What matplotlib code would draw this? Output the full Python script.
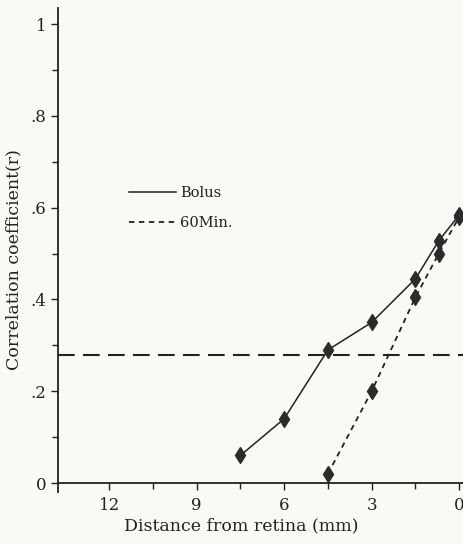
import matplotlib
matplotlib.use('Agg')
import matplotlib.pyplot as plt

plt.rcParams['font.family'] = ['DejaVu Serif']

# distance from retina (mm) and correlation coefficient
bolus_x = [7.5, 6.0, 4.5, 3.0, 1.5, 0.7, 0.0]
bolus_y = [0.06, 0.14, 0.29, 0.35, 0.445, 0.528, 0.584]
min60_x = [4.5, 3.0, 1.5, 0.7, 0.0]
min60_y = [0.02, 0.20, 0.405, 0.50, 0.58]
threshold = 0.28

x_ticks = [12, 9, 6, 3, 0]
x_minor = [10.5, 7.5, 4.5, 1.5]
y_ticks = [0, 0.2, 0.4, 0.6, 0.8, 1.0]
y_ticklabels = ['0', '.2', '.4', '.6', '.8', '1']
y_minor = [0.1, 0.3, 0.5, 0.7, 0.9]

ink = '#222222'
bg = '#faf9f5'

fig = plt.figure(figsize=(4.63, 5.44), dpi=100, facecolor=bg)
ax = fig.add_axes([0.1253, 0.0952, 0.898, 0.890])
ax.set_facecolor(bg)

ax.plot(bolus_x, bolus_y, color=ink, linewidth=1.1, label='Bolus')
ax.plot(min60_x, min60_y, color=ink, linewidth=1.3, linestyle=(0, (3, 2.5)), label='60Min.')
ax.plot(bolus_x, bolus_y, linestyle='none', marker='d', markersize=8,
        color='#2b2b2b')
ax.plot(min60_x, min60_y, linestyle='none', marker='d', markersize=8,
        color='#2b2b2b')
ax.axhline(threshold, color=ink, linewidth=1.5, linestyle=(0, (8, 4)))

ax.set_xlim(13.75, -0.5)
ax.set_ylim(-0.02, 1.035)

ax.spines['top'].set_visible(False)
ax.spines['right'].set_visible(False)
ax.spines['bottom'].set_position(('data', 0))
for s in ['left', 'bottom']:
    ax.spines[s].set_color(ink)
    ax.spines[s].set_linewidth(1.3)

ax.set_xticks(x_ticks)
ax.set_xticks(x_minor, minor=True)
ax.set_yticks(y_ticks)
ax.set_yticklabels(y_ticklabels)
ax.set_yticks(y_minor, minor=True)
ax.tick_params(axis='both', which='major', length=5, width=1, color=ink,
               labelsize=12, labelcolor=ink, direction='out')
ax.tick_params(axis='both', which='minor', length=4, width=1, color=ink,
               direction='out')
ax.tick_params(axis='x', pad=5)

ax.set_xlabel('Distance from retina (mm)', fontsize=12.5, color=ink)
ax.xaxis.set_label_coords(0.44, -0.052)
ax.set_ylabel('Correlation coefficient(r)', fontsize=12.5, color=ink)
ax.yaxis.set_label_coords(-0.085, 0.48)

ax.legend(loc='upper left', bbox_to_anchor=(0.14, 0.66), frameon=False,
          handlelength=3.2, handletextpad=0.3, labelspacing=1.1,
          fontsize=10.5, labelcolor=ink)

plt.savefig('out.png', dpi=100, facecolor=bg)
